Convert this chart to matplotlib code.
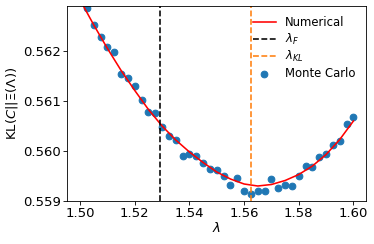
import numpy as np
import matplotlib
matplotlib.use("Agg")
import matplotlib.pyplot as plt

# numerical curve
lam_num = [1.500, 1.505, 1.510, 1.515, 1.520, 1.525, 1.530, 1.535, 1.540, 1.545,
           1.550, 1.555, 1.560, 1.565, 1.570, 1.575, 1.580, 1.585, 1.590, 1.595, 1.600]
kl_num = [0.56302, 0.56252, 0.56205, 0.56161, 0.56121, 0.56083, 0.56050, 0.56022,
          0.55998, 0.55977, 0.55958, 0.55944, 0.55934, 0.55930, 0.55933, 0.55941,
          0.55953, 0.55970, 0.55993, 0.56023, 0.56060]

# monte carlo points
lam_mc = [1.5025, 1.5050, 1.5075, 1.5100, 1.5125, 1.5150, 1.5175, 1.5200, 1.5225, 1.5250,
          1.5275, 1.5300, 1.5325, 1.5350, 1.5375, 1.5400, 1.5425, 1.5450, 1.5475, 1.5500,
          1.5525, 1.5550, 1.5575, 1.5600, 1.5625, 1.5650, 1.5675, 1.5700, 1.5725, 1.5750,
          1.5775, 1.5800, 1.5825, 1.5850, 1.5875, 1.5900, 1.5925, 1.5950, 1.5975, 1.6000]
kl_mc = [0.562868, 0.562528, 0.562280, 0.562074, 0.561988, 0.561540, 0.561454, 0.561300,
         0.561014, 0.560780, 0.560754, 0.560488, 0.560300, 0.560218, 0.559894, 0.559938,
         0.559890, 0.559754, 0.559634, 0.559614, 0.559500, 0.559324, 0.559460, 0.559194,
         0.559134, 0.559208, 0.559208, 0.559434, 0.559254, 0.559328, 0.559304, 0.559500,
         0.559704, 0.559678, 0.559884, 0.559938, 0.560128, 0.560194, 0.560530, 0.560680]

lam_F = 1.5294
lam_KL = 1.5624

plt.rcParams['font.size'] = 12.6
plt.rcParams['xtick.major.pad'] = 2.5
plt.rcParams['ytick.major.pad'] = 2.5

fig = plt.figure(figsize=(374 / 76, 244 / 76), dpi=76)
ax = fig.add_axes([67 / 374, 43 / 244, 299 / 374, 195 / 244])

ax.plot(lam_num, kl_num, color='red', label='Numerical')
ax.axvline(lam_F, color='k', linestyle='--', label=r'$\lambda_F$')
ax.axvline(lam_KL, color='C1', linestyle='--', label=r'$\lambda_{KL}$')
ax.scatter(lam_mc, kl_mc, s=40, color='C0', label='Monte Carlo')

ax.set_xlim(1.4952, 1.6046)
ax.set_ylim(0.559, 0.5629)
ax.set_xticks([1.50, 1.52, 1.54, 1.56, 1.58, 1.60])
ax.set_yticks([0.559, 0.560, 0.561, 0.562])
ax.set_xlabel(r'$\lambda$', labelpad=1)
ax.set_ylabel(r'KL$(C||\Xi(\Lambda))$', labelpad=3)
ax.legend(loc='upper right', frameon=False, fontsize=11, labelspacing=0.2)

fig.savefig('out.png', dpi=76)
